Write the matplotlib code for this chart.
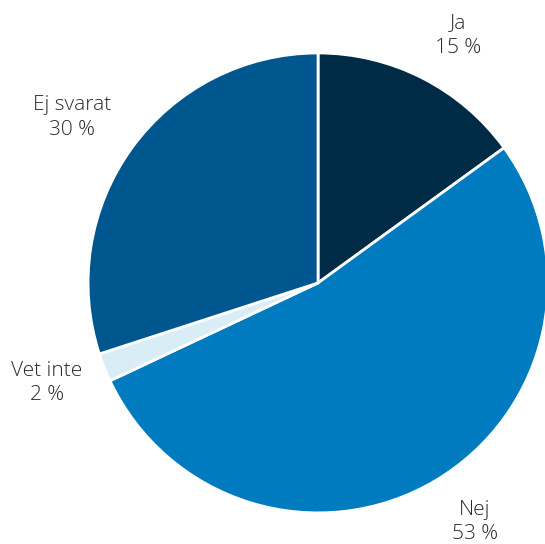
import matplotlib.pyplot as plt

labels = ["Ja", "Nej", "Vet inte", "Ej svarat"]
values = [15, 53, 2, 30]
colors = ["#002b47", "#007bc0", "#d9edf7", "#00578f"]

plt.rcParams['font.family'] = ['Open Sans', 'DejaVu Sans']

fig = plt.figure(figsize=(5.45, 5.44), dpi=100)
ax = fig.add_axes([0, 0, 1, 1])

texts_in = ["%s\n%d %%" % (l, v) for l, v in zip(labels, values)]
wedges, texts = ax.pie(values, labels=texts_in, colors=colors, startangle=90,
                       counterclock=False, labeldistance=1.25,
                       wedgeprops=dict(edgecolor='white', linewidth=2),
                       textprops=dict(fontsize=15, color='#2a2a2a', linespacing=1.3,
                                      fontweight='light'))
for t in texts:
    t.set_ha('center')
    t.set_va('center')
# small nudges to match the reference placement
texts[2].set_position((-1.18, -0.435))
texts[3].set_position((-1.07, 0.72))
texts[0].set_position((0.61, 1.075))
texts[1].set_position((0.683, -1.04))

ax.set_aspect('equal')
ax.set_xlim(-1.383, 0.987)
ax.set_ylim(-1.135, 1.230)
ax.axis('off')

fig.savefig('out.png', dpi=100)
